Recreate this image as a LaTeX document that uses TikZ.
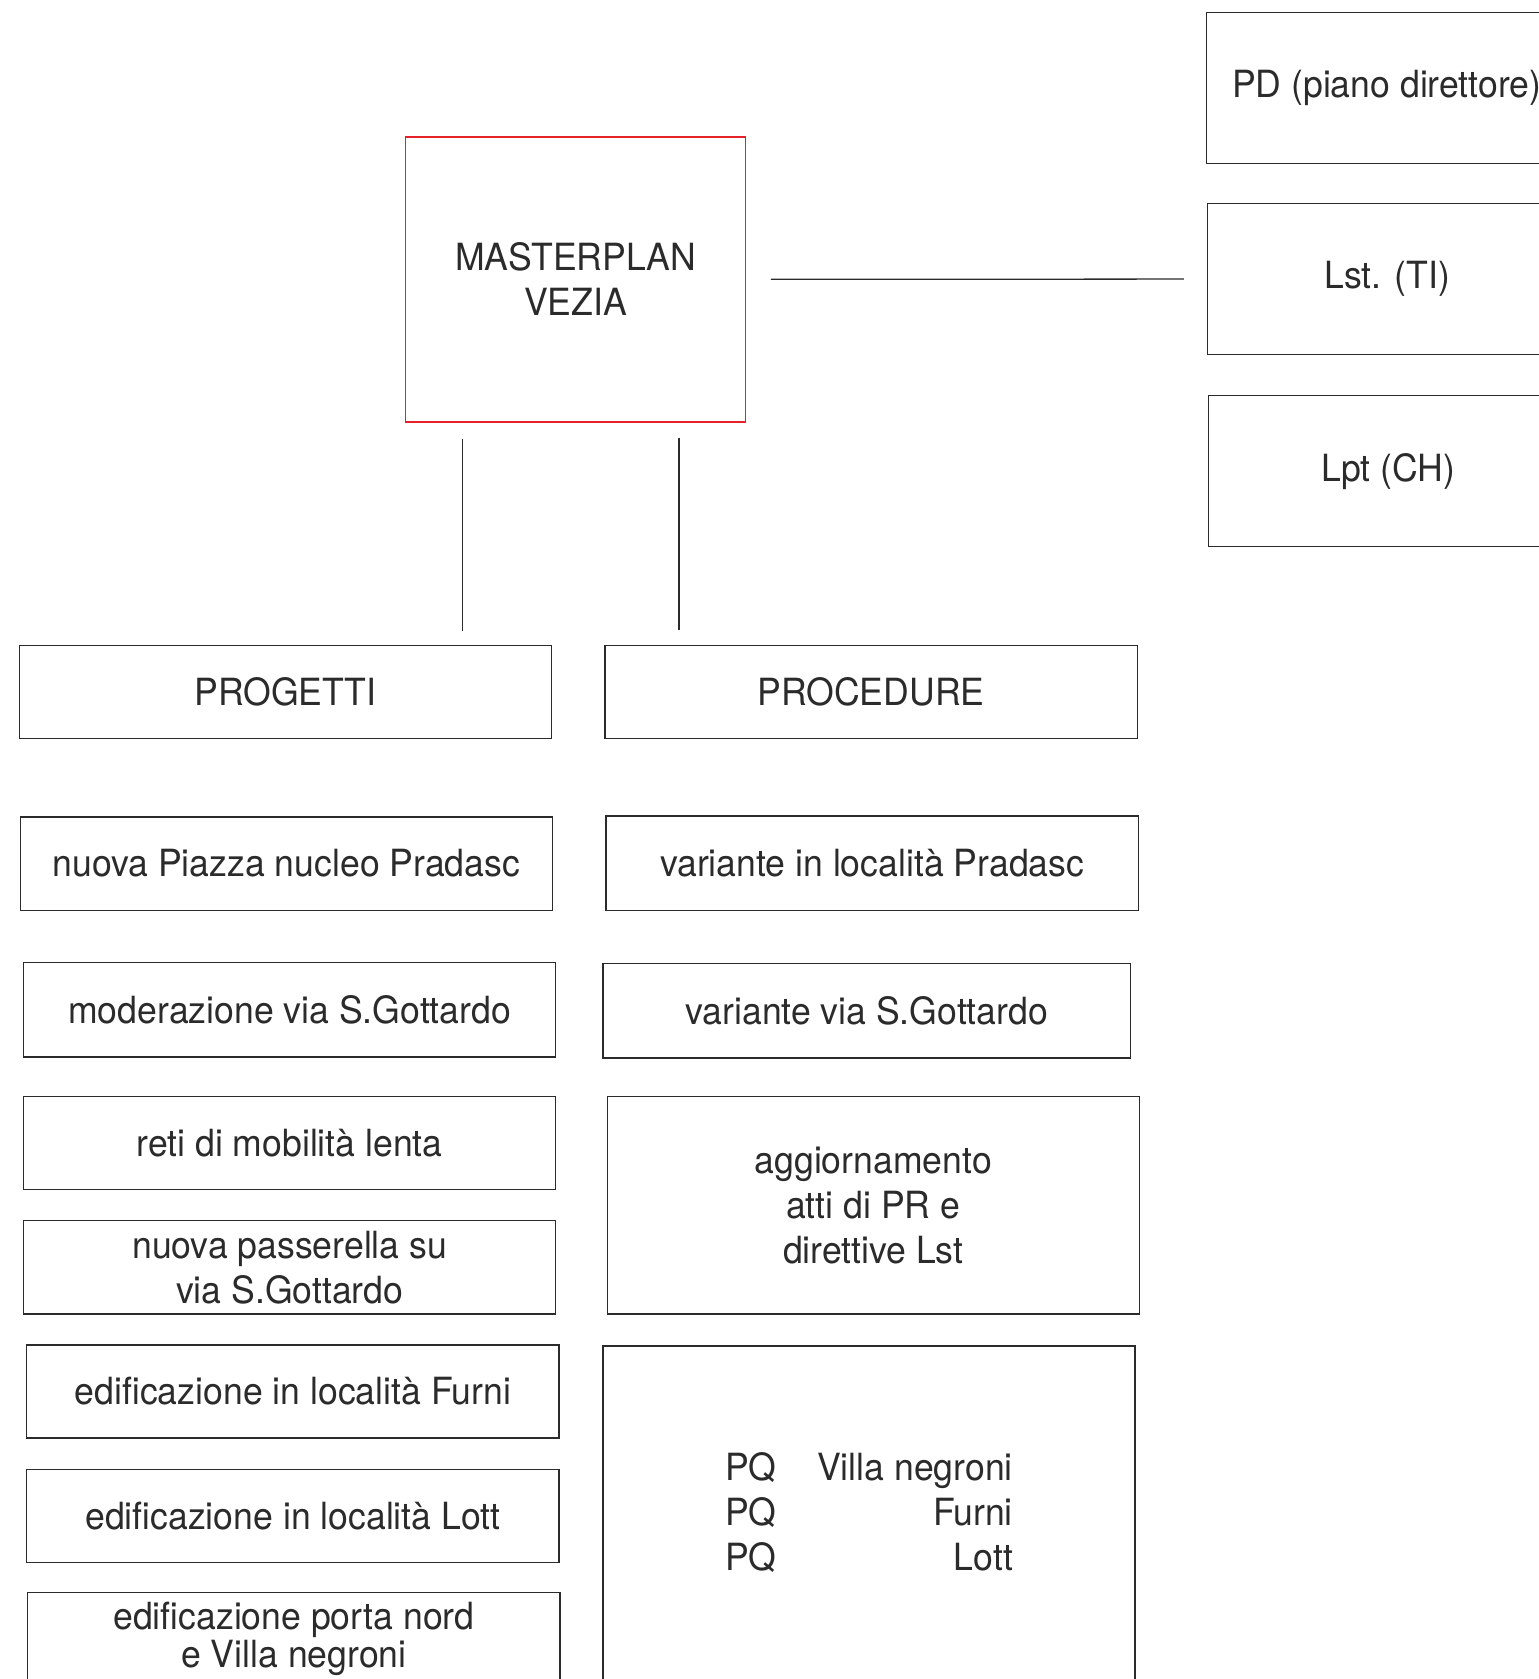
\documentclass[tikz,border=0pt]{standalone}
\usepackage{fontspec}
\setmainfont{TeX Gyre Heros}[FakeStretch=0.95]
\usepackage{tikz}
\usetikzlibrary{positioning}
\definecolor{mpred}{HTML}{E62129}
\definecolor{ink}{HTML}{2B2B2B}
\tikzstyle{box} = [rectangle, minimum width=248.5pt, minimum height=43.5pt, text centered, align=center, inner sep=0pt, outer sep=0pt, draw=ink, line width=0.6pt, text=ink, font=\fontsize{17.5}{21}\selectfont]
\tikzstyle{mbox} = [box, draw=mpred, minimum width=158.5pt, minimum height=133pt]
\tikzstyle{side} = [box, minimum width=168pt, minimum height=70.5pt]
\tikzstyle{link} = [draw=ink, line width=0.6pt]

\begin{document}
\begin{tikzpicture}[x=0.5pt, y=-0.5pt]
\useasboundingbox (0,0) rectangle (1437,1568);

% masterplan and the laws on the right
\node (mp) [mbox] at (537.5,261) {MASTERPLAN\\VEZIA};
\node (pd) [side] at (1295,82.5) {PD (piano direttore)};
\node (lst) [side] at (1295.5,260.5) {Lst. (TI)};
\node (lpt) [side] at (1296.5,440) {Lpt (CH)};

% the two branches
\node (prog) [box] at (266.5,646.5) {PROGETTI};
\node (proc) [box] at (813.5,646.5) {PROCEDURE};

% progetti
\node (p1) [box] at (267.5,806.5) {nuova Piazza nucleo Pradasc};
\node (p2) [box, minimum height=44pt] at (270.5,943) {moderazione via S.Gottardo};
\node (p3) [box] at (270.5,1067.5) {reti di mobilità lenta};
\node (p4) [box] at (270.5,1183.5) {nuova passerella su\\via S.Gottardo};
\node (p5) [box] at (273.5,1299.5) {edificazione in località Furni};
\node (p6) [box] at (273.5,1415.5) {edificazione in località Lott};
\node (p7) [box] at (274.5,1530.5) {edificazione porta nord\\[-3pt]e Villa negroni};

% procedure
\node (r1) [box, minimum height=44pt] at (814.5,806) {variante in località Pradasc};
\node (r2) [box, minimum width=246.5pt, minimum height=44pt] at (809.5,944) {variante via S.Gottardo};
\node (r3) [box, minimum height=101.5pt] at (815.5,1125.5) {aggiornamento\\atti di PR e\\direttive Lst};
\node (r4) [box, minimum height=159pt] at (811.5,1416) {%
  \begin{tabular}{@{}l@{\hspace{19pt}}r@{}}
   PQ & Villa negroni\\
   PQ & Furni\\
   PQ & Lott
  \end{tabular}};

\draw[link, shorten <=12pt, shorten >=11pt] (mp) -- (lst);
\draw[link, shorten <=8pt, shorten >=7pt] ([xshift=-52.75pt]mp.south) -- ([xshift=-52.75pt]mp.south |- prog.north);
\draw[link, shorten <=7.5pt, shorten >=7.5pt] ([xshift=48.25pt]mp.south) -- ([xshift=48.25pt]mp.south |- proc.north);
\end{tikzpicture}
\end{document}
